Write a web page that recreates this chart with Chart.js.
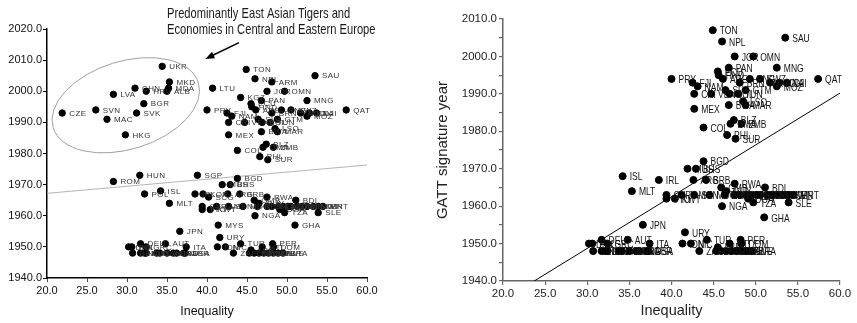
<!DOCTYPE html>
<html>
<head>
<meta charset="utf-8">
<script src="https://cdn.jsdelivr.net/npm/chart.js@4.4.0/dist/chart.umd.min.js"></script>
<style>
    body { margin: 0; background: #fff; }
    #gauche { position: absolute; left: 0; top: 0; }
    #droite { position: absolute; left: 420px; top: 0; }
</style>
</head>
<body>
<canvas id="gauche" width="420" height="323"></canvas>
<canvas id="droite" width="437" height="323"></canvas>
<script>
// country codes, inequality (x) and GATT signature year (y)
const pays = [
    'UKR','MKD','MDA','ALB','HRV','CHN','LVA','BGR','SVN','SVK','CZE','MAC','HKG','LTU','KGZ','ARM',
    'ROM','HUN','POL','KOR','SCG','SGP','MYS',
    'TON','NPL','SAU','JOR','OMN','PAN','MNG','ECU','HND','PRY','QAT','ARE','PNG','SWZ','BRN','AGO',
    'KNA','DJI','FJI','NAM','MOZ','SLV','GTM','CRI','VEN','BOL','TUN','LSO','MAR','BWA','MEX','BLZ',
    'DMA','ZMB','COL','PHL','SUR','BGD','MUS','BHS','ISL','IRL','ARG','BRB','RWA','GMB','BDI','MLT',
    'GUY','CYP','JAM','SEN','MDG','NER','CIV','BFA','CAF','TCD','COG','GAB','CMR','BEN','TGO','MWI',
    'KEN','MRT','TTO','KWT','UGA','TZA','SLE','NGA','GHA','JPN','URY','DEU','AUT','TUR','PER','DNK',
    'FIN','GRC','ITA','IDN','NIC','LBR','HTI','DOM','BEL','NOR','NLD','LUX','CAN','PAK','AUS','FRA',
    'IND','GBR','USA','ZAF','LKA','SYR','CUB','MMR','LBN','CHL','ZWE','BRA'
];
const inegalite = [
    34.4,35.3,35.2,35.0,32.4,31.0,28.3,32.1,26.1,31.2,21.9,27.5,29.8,40.7,44.2,48.1,
    28.3,31.6,32.2,39.5,40.2,38.8,41.4,
    44.9,46.0,53.5,47.5,49.7,46.8,52.5,45.5,45.6,40.0,57.4,46.1,49.3,50.5,48.1,51.7,
    52.8,53.7,42.5,43.1,52.5,46.4,48.8,42.7,44.7,46.9,47.9,48.5,48.8,46.8,42.7,47.4,
    47.0,48.3,43.8,46.6,47.6,43.8,41.9,42.9,34.2,38.5,42.6,44.1,47.5,45.9,51.1,35.3,
    46.5,39.4,41.2,42.7,44.5,46.3,47.5,48.1,48.9,49.5,50.1,50.5,51.3,51.9,52.5,53.3,
    53.9,54.5,39.4,40.4,49.1,49.7,53.9,46.0,51.0,36.6,41.6,31.7,34.8,44.2,48.2,30.2,
    30.6,32.4,37.4,41.3,42.3,45.5,46.9,48.3,30.7,31.7,32.2,32.4,33.7,34.1,35.0,35.8,
    36.2,37.1,37.3,43.3,45.3,45.9,46.5,47.1,47.7,48.3,48.9,49.5
];
const anneeGatt = [
    2008,2003,2001,2000,2000,2001,1999,1996,1994,1993,1993,1991,1986,2001,1998,2003,
    1971,1973,1967,1967,1966,1973,1957,
    2007,2004,2005,2000,2000,1997,1997,1996,1995,1994,1994,1994,1994,1994,1993,1993,
    1993,1993,1993,1992,1992,1991,1991,1990,1990,1990,1990,1988,1987,1987,1986,1983,
    1982,1982,1981,1979,1978,1972,1970,1970,1968,1967,1967,1967,1966,1965,1965,1964,
    1964,1963,1963,1963,1963,1963,1963,1963,1963,1963,1963,1963,1963,1963,1963,1963,
    1963,1963,1962,1962,1962,1961,1961,1960,1957,1955,1953,1951,1951,1951,1951,1950,
    1950,1950,1950,1950,1950,1949,1950,1950,1948,1948,1948,1948,1948,1948,1948,1948,
    1948,1948,1948,1948,1948,1948,1948,1948,1948,1948,1948,1948
];
// East Asian tigers and Central / Eastern Europe: only in the left panel
const seulementGauche = ['UKR','MKD','MDA','ALB','HRV','CHN','LVA','BGR','SVN','SVK','CZE','MAC','HKG',
    'LTU','KGZ','ARM','ROM','HUN','POL','KOR','SCG','SGP','MYS'];

// fitted lines
const droiteGaucheX = [20, 60];
const droiteGaucheY = [1967.2, 1976.3];
const droiteDroiteX = [23.7, 60];
const droiteDroiteY = [1940, 1990.2];

// annotation of the left panel
const ellipseCentre = [29.85, 1995.5];
const flecheDebut = [44.0, 2015.6];
const flecheFin = [39.8, 2010.4];
const texteNote = ['Predominantly East Asian Tigers and', 'Economies in Central and Eastern Europe'];

Chart.defaults.font.family = "'Liberation Sans', Arial, sans-serif";

function points(tous) {
    let res = [], codes = [];
    for (let i = 0; i < pays.length; i++) {
        if (!tous && seulementGauche.includes(pays[i])) continue;
        res.push({x: inegalite[i], y: anneeGatt[i]});
        codes.push(pays[i]);
    }
    return {res: res, codes: codes};
}

const etiquettesPlugin = {
    id: 'etiquettes',
    afterDatasetsDraw(chart, args, opts) {
        let ctx = chart.ctx;
        let meta = chart.getDatasetMeta(0);
        let codes = chart.data.datasets[0].codes;
        ctx.save();
        ctx.font = opts.font;
        ctx.fillStyle = opts.color;
        ctx.textBaseline = 'middle';
        if (opts.spacing) ctx.letterSpacing = opts.spacing;
        meta.data.forEach(function (pt, i) {
            ctx.save();
            ctx.translate(pt.x + opts.dx, pt.y + opts.dy);
            ctx.scale(opts.squeeze, 1);
            ctx.fillText(codes[i], 0, 0);
            ctx.restore();
        });
        ctx.restore();
    }
};

const notePlugin = {
    id: 'note',
    afterDraw(chart) {
        let ctx = chart.ctx;
        let xs = chart.scales.x, ys = chart.scales.y;
        ctx.save();
        ctx.strokeStyle = '#a0a0a0';
        ctx.lineWidth = 1;
        ctx.beginPath();
        ctx.ellipse(xs.getPixelForValue(ellipseCentre[0]), ys.getPixelForValue(ellipseCentre[1]), 76, 44, -0.3, 0, 2 * Math.PI);
        ctx.stroke();

        // arrow
        let x1 = xs.getPixelForValue(flecheDebut[0]), y1 = ys.getPixelForValue(flecheDebut[1]);
        let x2 = xs.getPixelForValue(flecheFin[0]), y2 = ys.getPixelForValue(flecheFin[1]);
        let ang = Math.atan2(y2 - y1, x2 - x1);
        ctx.strokeStyle = '#000';
        ctx.fillStyle = '#000';
        ctx.lineWidth = 1.5;
        ctx.beginPath();
        ctx.moveTo(x1, y1);
        ctx.lineTo(x2 - 6 * Math.cos(ang), y2 - 6 * Math.sin(ang));
        ctx.stroke();
        ctx.beginPath();
        ctx.moveTo(x2, y2);
        ctx.lineTo(x2 - 9 * Math.cos(ang) + 3.5 * Math.sin(ang), y2 - 9 * Math.sin(ang) - 3.5 * Math.cos(ang));
        ctx.lineTo(x2 - 9 * Math.cos(ang) - 3.5 * Math.sin(ang), y2 - 9 * Math.sin(ang) + 3.5 * Math.cos(ang));
        ctx.closePath();
        ctx.fill();

        // text
        ctx.fillStyle = '#1a1a1a';
        ctx.font = "14.5px 'Liberation Sans', Arial, sans-serif";
        ctx.textBaseline = 'alphabetic';
        let tx = xs.getPixelForValue(35);
        texteNote.forEach(function (ligne, i) {
            ctx.save();
            ctx.translate(tx, chart.chartArea.top - 11 + i * 16);
            ctx.scale(0.77, 1);
            ctx.fillText(ligne, 0, 0);
            ctx.restore();
        });
        ctx.restore();
    }
};

function afficherGauche() {
    let d = points(true);
    let cvs = document.getElementById('gauche').getContext('2d');
    new Chart(cvs, {
        type: 'scatter',
        data: {
            datasets: [{
                data: d.res,
                codes: d.codes,
                backgroundColor: '#000',
                borderColor: '#000',
                pointRadius: 3.2,
                pointHoverRadius: 3.2,
                order: 0
            }, {
                type: 'line',
                data: droiteGaucheX.map((x, i) => ({x: x, y: droiteGaucheY[i]})),
                borderColor: '#b4b4b4',
                borderWidth: 1,
                pointRadius: 0,
                order: 1
            }]
        },
        options: {
            responsive: false,
            animation: false,
            events: [],
            layout: {padding: {top: 29, right: 53, left: 0, bottom: 0}},
            plugins: {
                legend: {display: false},
                tooltip: {enabled: false},
                etiquettes: {font: "8px 'Liberation Sans', Arial, sans-serif", color: '#333', dx: 7, dy: 0.5, squeeze: 1, spacing: '0.4px'}
            },
            scales: {
                x: {
                    type: 'linear', min: 20, max: 60,
                    ticks: {stepSize: 5, callback: v => v.toFixed(1), color: '#111', font: {size: 11}, padding: 2, maxRotation: 0, autoSkip: false},
                    grid: {drawOnChartArea: false, tickLength: 4, color: '#3a3ad0', lineWidth: 1},
                    border: {color: '#000', width: 1.5},
                    title: {display: true, text: 'Inequality', color: '#111', font: {size: 12.5}, padding: {top: 0, bottom: 4}},
                    afterFit: s => { s.height = 45; }
                },
                y: {
                    type: 'linear', min: 1940, max: 2020,
                    ticks: {stepSize: 10, callback: v => v.toFixed(1), color: '#111', font: {size: 11}, padding: 1},
                    grid: {drawOnChartArea: false, tickLength: 4, color: '#000', lineWidth: 1},
                    border: {color: '#000', width: 1.5},
                    afterFit: s => { s.width = 47; }
                }
            }
        },
        plugins: [etiquettesPlugin, notePlugin]
    });
}

function afficherDroite() {
    let d = points(false);
    let cvs = document.getElementById('droite').getContext('2d');
    new Chart(cvs, {
        type: 'scatter',
        data: {
            datasets: [{
                data: d.res,
                codes: d.codes,
                backgroundColor: '#000',
                borderColor: '#000',
                pointRadius: 3.5,
                pointHoverRadius: 3.5,
                order: 0
            }, {
                type: 'line',
                data: droiteDroiteX.map((x, i) => ({x: x, y: droiteDroiteY[i]})),
                borderColor: '#000',
                borderWidth: 1,
                pointRadius: 0,
                order: 1
            }]
        },
        options: {
            responsive: false,
            animation: false,
            events: [],
            layout: {padding: {top: 19, right: 17, left: 0, bottom: 0}},
            plugins: {
                legend: {display: false},
                tooltip: {enabled: false},
                etiquettes: {font: "11.5px 'Liberation Sans', Arial, sans-serif", color: '#111', dx: 7, dy: 1, squeeze: 0.74}
            },
            scales: {
                x: {
                    type: 'linear', min: 20, max: 60,
                    ticks: {stepSize: 5, callback: v => v.toFixed(1), color: '#222', font: {size: 11.5}, padding: 2, maxRotation: 0, autoSkip: false},
                    grid: {drawOnChartArea: false, tickLength: 4, color: '#666', lineWidth: 1.2},
                    border: {color: '#666', width: 1.5},
                    title: {display: true, text: 'Inequality', color: '#222', font: {size: 14.5}, padding: {top: 0, bottom: 3}},
                    afterFit: s => { s.height = 42; }
                },
                y: {
                    type: 'linear', min: 1940, max: 2010,
                    ticks: {stepSize: 5, callback: v => (v % 10 === 0 ? v.toFixed(1) : ''), color: '#222', font: {size: 11.5}, padding: 2, autoSkip: false},
                    grid: {drawOnChartArea: false, tickLength: 4, color: '#666', lineWidth: 1.2},
                    border: {color: '#666', width: 1.5},
                    title: {display: true, text: 'GATT signature year', color: '#222', font: {size: 15}, padding: {top: 14, bottom: 0}},
                    afterFit: s => { s.width = 83; }
                }
            }
        },
        plugins: [etiquettesPlugin]
    });
}

afficherGauche();
afficherDroite();
</script>
</body>
</html>
